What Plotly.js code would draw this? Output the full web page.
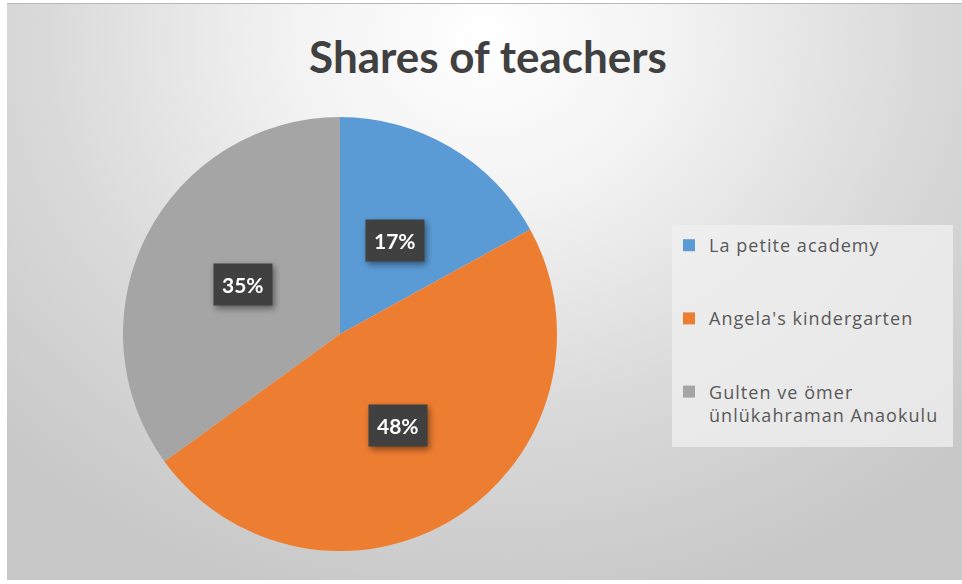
<!DOCTYPE html>
<html>
<head>
<meta charset="utf-8">
<script src="https://cdn.plot.ly/plotly-3.0.1.min.js"></script>
<style>
  html, body { margin: 0; padding: 0; background: #ffffff; }
  #frame {
    position: absolute; left: 7px; top: 3px; width: 955px; height: 577px;
    background: radial-gradient(ellipse 70% 100% at 50% 6%, #ffffff 0%, #f3f3f3 28%, #dadada 65%, #c8c8c8 100%);
    border-top: 1px solid #b8b8b8;
    box-sizing: border-box;
  }
  #chart { position: absolute; left: 0; top: 0; width: 955px; height: 577px; }
  .legendtext { letter-spacing: 1.05px; }
  #chart .annotation { filter: drop-shadow(2px 3px 3px rgba(0,0,0,0.45)); }
</style>
</head>
<body>
<div id="frame"><div id="chart"></div></div>
<script>
const categories = ["La petite academy", "Angela's kindergarten", "Gulten ve ömer ünlükahraman Anaokulu"];
const legendLabels = ["La petite academy", "Angela's kindergarten", "Gulten ve ömer<br>ünlükahraman Anaokulu"];
const values = [17, 48, 35];
const colors = ["#5B9BD5", "#ED7D31", "#A5A5A5"];
const chartTitle = "Shares of teachers";

const W = 955, H = 577;
const cxPx = 333, cyPx = 330, rPx = 217;
const domX = [(cxPx - rPx) / W, (cxPx + rPx) / W];
const domY = [1 - (cyPx + rPx) / H, 1 - (cyPx - rPx) / H];

const total = values.reduce((a, b) => a + b, 0);
const annotations = [];
let cum = 0;
values.forEach((v, i) => {
  const mid = (cum + v / 2) / total * 2 * Math.PI;
  cum += v;
  const d = 0.5 * rPx;
  annotations.push({
    xref: 'paper', yref: 'paper',
    x: (cxPx + d * Math.sin(mid)) / W,
    y: 1 - (cyPx - d * Math.cos(mid)) / H,
    text: '<b>' + Math.round(v / total * 100) + '%</b>',
    showarrow: false,
    font: { family: 'Lato, sans-serif', size: 21, color: '#ffffff' },
    bgcolor: '#404040',
    borderpad: 8,
    xanchor: 'center', yanchor: 'middle'
  });
});

// pad legend labels so entries are spaced as in the reference
const padded = legendLabels.map((t, i) => i < legendLabels.length - 1 ? t + '<br> <br> ' : t);

const trace = {
  type: 'pie',
  labels: padded,
  values: values,
  sort: false,
  direction: 'clockwise',
  rotation: 0,
  textinfo: 'none',
  hoverinfo: 'skip',
  marker: { colors: colors, line: { width: 0 } },
  domain: { x: domX, y: domY }
};

const layout = {
  width: W, height: H,
  margin: { l: 0, r: 0, t: 0, b: 0 },
  paper_bgcolor: 'rgba(0,0,0,0)',
  plot_bgcolor: 'rgba(0,0,0,0)',
  title: {
    text: chartTitle,
    font: { family: 'Lato, sans-serif', size: 44, color: '#404040', weight: 'bold' },
    x: 481 / W, xanchor: 'center', xref: 'container',
    y: 1 - 54 / H, yanchor: 'middle', yref: 'container'
  },
  showlegend: true,
  legend: {
    x: 662 / W, xanchor: 'left',
    y: 1 - 223 / H, yanchor: 'top',
    bgcolor: 'rgba(0,0,0,0)',
    borderwidth: 0,
    valign: 'top',
    font: { family: '"Open Sans", sans-serif', size: 18, color: '#595959' },
    traceorder: 'normal'
  },
  shapes: [{
    type: 'rect', xref: 'paper', yref: 'paper', layer: 'below',
    x0: 665 / W, x1: 946 / W, y0: 1 - 443 / H, y1: 1 - 221 / H,
    fillcolor: 'rgba(240,240,240,0.75)', line: { width: 0 }
  }],
  annotations: annotations
};

Plotly.newPlot('chart', [trace], layout, { displayModeBar: false, staticPlot: true });
</script>
</body>
</html>
